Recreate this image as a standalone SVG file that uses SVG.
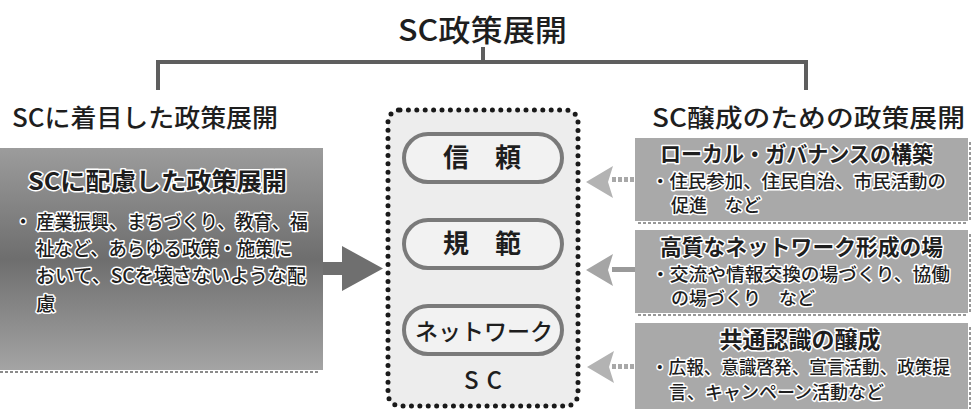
<svg xmlns="http://www.w3.org/2000/svg" width="979" height="409" viewBox="0 0 979 409">
<defs>
<linearGradient id="gl" x1="0" y1="0" x2="0" y2="1">
<stop offset="0" stop-color="#9c9c9c"/>
<stop offset="0.5" stop-color="#6e6e6e"/>
<stop offset="1" stop-color="#a4a4a4"/>
</linearGradient>
<style>
text{font-family:"Noto Sans CJK JP","Noto Sans CJK SC",sans-serif;fill:#1e1e1e}
.head{font-size:25px;font-weight:500}
.halo{stroke:#ffffff;stroke-width:3px;paint-order:stroke;stroke-linejoin:round}
.btitle{font-size:22px;font-weight:700}
.line{font-size:18px;font-weight:500}
.lline{font-size:19.5px;font-weight:500}
.pill{fill:#f2f2f2;stroke:#7a7a7a;stroke-width:4}
.ptxt{font-size:26px;font-weight:700;text-anchor:middle}
.rbox{fill:#a9a9a9}
.br{fill:none;stroke:#5e5e5e;stroke-width:4}
</style>
</defs>
<rect width="979" height="409" fill="#ffffff"/>

<g id="title">
<text x="398" y="41" style="font-size:30px;font-weight:500" textLength="169" lengthAdjust="spacingAndGlyphs">SC政策展開</text>
</g>

<g id="connectors">
<path class="br" d="M483 47 V62 M158 90 V62 H806 V90"/>
<path d="M323 262 H342 V246 L383 268.5 L342 291 V275 H323 Z" fill="#6f6f6f"/>
<path d="M612 179.5 H635" stroke="#a8a8a8" stroke-width="5" stroke-dasharray="4 2"/>
<path d="M586 182 L613 166 L608 182 L613 198 Z" fill="#b3b3b3"/>
<path d="M612 269.5 H635" stroke="#9a9a9a" stroke-width="5"/>
<path d="M586 270 L613 254 L608 270 L613 286 Z" fill="#a5a5a5"/>
<path d="M612 366.5 H635" stroke="#a8a8a8" stroke-width="5" stroke-dasharray="4 2"/>
<path d="M587 367 L614 351 L609 367 L614 383 Z" fill="#b3b3b3"/>
</g>

<g id="left-head">
<text x="12" y="127" class="head" textLength="266" lengthAdjust="spacingAndGlyphs">SCに着目した政策展開</text>
</g>
<g id="right-head">
<text x="652" y="127" class="head" textLength="313" lengthAdjust="spacingAndGlyphs">SC醸成のための政策展開</text>
</g>

<g id="left-box">
<rect x="0" y="148" width="323" height="222" fill="url(#gl)"/>
<path d="M0 372 H320" stroke="#666" stroke-width="1.5" stroke-dasharray="3 2"/>
<text x="28" y="190" class="btitle halo" style="font-size:24px" textLength="259" lengthAdjust="spacingAndGlyphs">SCに配慮した政策展開</text>
<text x="14" y="229" class="lline halo" textLength="294" lengthAdjust="spacingAndGlyphs">・ 産業振興、まちづくり、教育、福</text>
<text x="36" y="256" class="lline halo" textLength="256" lengthAdjust="spacingAndGlyphs">祉など、あらゆる政策・施策に</text>
<text x="36" y="283" class="lline halo" textLength="270" lengthAdjust="spacingAndGlyphs">おいて、SCを壊さないような配</text>
<text x="36" y="311" class="lline halo">慮</text>
</g>

<g id="sc">
<rect x="388" y="110" width="190" height="296" rx="12" fill="#ededed" stroke="#1a1a1a" stroke-width="5" stroke-linecap="round" stroke-dasharray="0 8.4"/>
<text x="487" y="389" class="ptxt" style="font-size:24px;font-weight:500" letter-spacing="8">SC</text>
</g>
<g id="trust">
<rect x="404" y="134" width="158" height="48" rx="24" class="pill"/>
<text x="482" y="167" class="ptxt">信　頼</text>
</g>
<g id="norm">
<rect x="404" y="220" width="158" height="48" rx="24" class="pill"/>
<text x="482" y="253" class="ptxt">規　範</text>
</g>
<g id="network">
<rect x="404" y="306" width="158" height="48" rx="24" class="pill"/>
<text x="484" y="340" class="ptxt" style="font-size:23px;font-weight:500">ネットワーク</text>
</g>

<g id="box1">
<rect x="635" y="138" width="333" height="83" class="rbox"/>
<path d="M970 142 V222 M638 223 H968" stroke="#777" stroke-width="1.5" stroke-dasharray="3 2"/>
<text x="660" y="162" class="btitle halo" textLength="273" lengthAdjust="spacingAndGlyphs">ローカル・ガバナンスの構築</text>
<text x="651" y="188" class="line halo" textLength="295" lengthAdjust="spacingAndGlyphs">・住民参加、住民自治、市民活動の</text>
<text x="671" y="212" class="line halo">促進　など</text>
</g>

<g id="box2">
<rect x="635" y="230" width="333" height="83" class="rbox"/>
<path d="M970 234 V314 M638 315 H968" stroke="#777" stroke-width="1.5" stroke-dasharray="3 2"/>
<text x="660" y="255" class="btitle halo" textLength="283" lengthAdjust="spacingAndGlyphs">高質なネットワーク形成の場</text>
<text x="651" y="281" class="line halo" textLength="299" lengthAdjust="spacingAndGlyphs">・交流や情報交換の場づくり、協働</text>
<text x="671" y="305" class="line halo">の場づくり　など</text>
</g>

<g id="box3">
<rect x="635" y="323" width="333" height="86" class="rbox"/>
<path d="M970 327 V409" stroke="#777" stroke-width="1.5" stroke-dasharray="3 2"/>
<text x="800" y="348" class="btitle halo" text-anchor="middle" style="font-size:23px">共通認識の醸成</text>
<text x="651" y="374" class="line halo" textLength="299" lengthAdjust="spacingAndGlyphs">・広報、意識啓発、宣言活動、政策提</text>
<text x="669" y="399" class="line halo">言、キャンペーン活動など</text>
</g>
</svg>
